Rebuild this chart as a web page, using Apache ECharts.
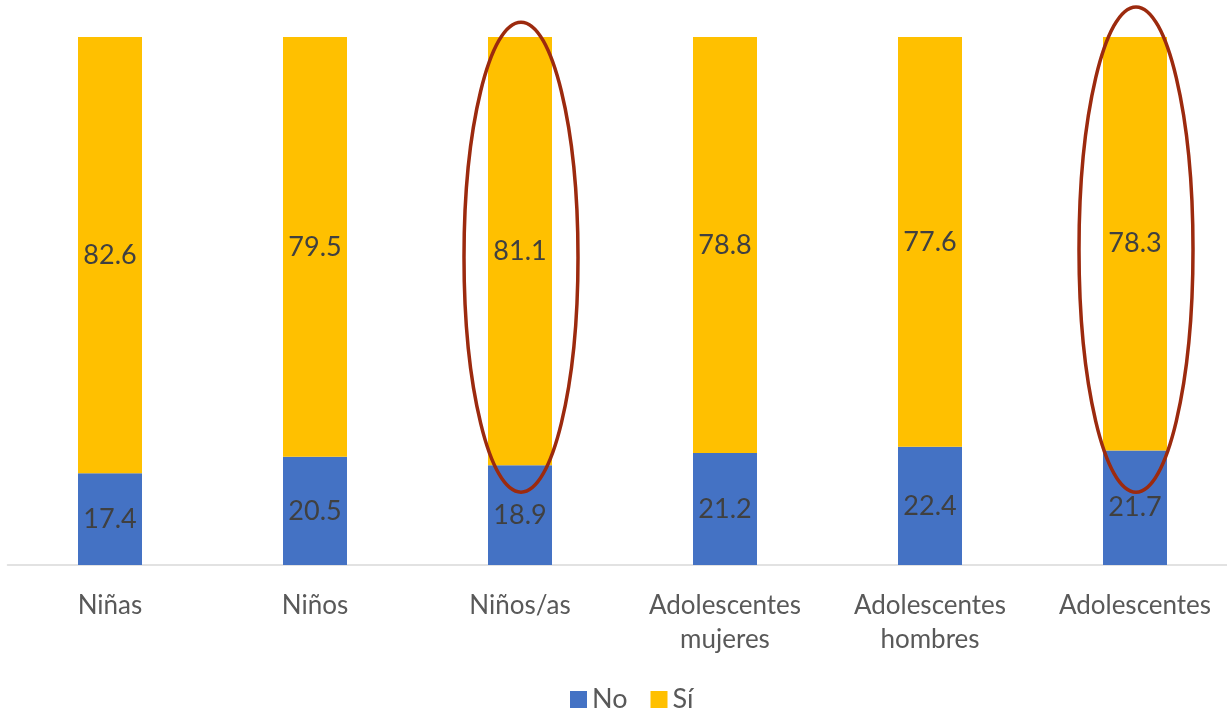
<!DOCTYPE html>
<html><head><meta charset="utf-8">
<script src="https://cdn.jsdelivr.net/npm/echarts@6/dist/echarts.min.js"></script>
<style>html,body{margin:0;padding:0;background:#fff}#c{width:1227px;height:712px}</style>
</head><body><div id="c"></div>
<script>
const categories = ['Niñas', 'Niños', 'Niños/as', 'Adolescentes\nmujeres', 'Adolescentes\nhombres', 'Adolescentes'];
const noValues = [17.4, 20.5, 18.9, 21.2, 22.4, 21.7];
const siValues = [82.6, 79.5, 81.1, 78.8, 77.6, 78.3];
const highlighted = [2, 5];
const highlightTop = [102.8, 105.7];
const highlightBottom = [13.8, 13.8];

const chart = echarts.init(document.getElementById('c'));
const font = 'Lato, "Open Sans", sans-serif';
const lbl = {show: true, position: 'inside', color: '#404040', fontSize: 27, fontFamily: font, formatter: p => p.value.toFixed(1)};
chart.setOption({
  animation: false,
  grid: {left: 7.5, top: 37, right: -10.5, bottom: 147, containLabel: false, outerBoundsMode: 'none'},
  legend: {bottom: -6, left: 565, itemWidth: 17, itemHeight: 17, itemGap: 23,
    textStyle: {fontSize: 27, color: '#595959', fontFamily: font},
    data: [{name: 'No', icon: 'rect'}, {name: 'Sí', icon: 'rect'}]},
  xAxis: {type: 'category', data: categories,
    axisLine: {lineStyle: {color: '#d9d9d9', width: 1.5}},
    axisTick: {show: false},
    axisLabel: {color: '#595959', fontSize: 26, fontFamily: font, margin: 24, lineHeight: 34, interval: 0}},
  yAxis: {type: 'value', min: 0, max: 100, show: false, splitLine: {show: false}},
  series: [
    {name: 'No', type: 'bar', stack: 't', data: noValues, barWidth: 64, itemStyle: {color: '#4472C4'}, label: lbl},
    {name: 'Sí', type: 'bar', stack: 't', data: siValues, barWidth: 64, itemStyle: {color: '#FFC000'}, label: lbl}
  ]
});
const g = highlighted.map((idx, i) => {
  const top = chart.convertToPixel({gridIndex: 0}, [idx, highlightTop[i]]);
  const bot = chart.convertToPixel({gridIndex: 0}, [idx, highlightBottom[i]]);
  return {type: 'ellipse', z: 100,
    shape: {cx: top[0] + 1, cy: (top[1] + bot[1]) / 2, rx: 57, ry: (bot[1] - top[1]) / 2},
    style: {fill: 'none', stroke: '#9C2A0E', lineWidth: 3.5}};
});
chart.setOption({graphic: g});
</script></body></html>
